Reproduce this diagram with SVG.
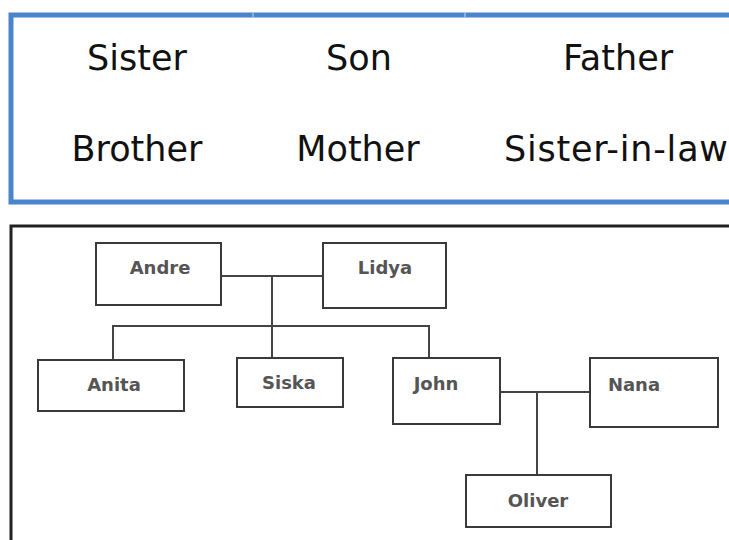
<svg xmlns="http://www.w3.org/2000/svg" width="729" height="540" viewBox="0 0 729 540">
<style>
.word{font-family:"DejaVu Sans","Liberation Sans",sans-serif;font-size:35px;fill:#111;text-anchor:middle}
.box{fill:#fff;stroke:#3a3a3a;stroke-width:2}
.name{font-family:"DejaVu Sans","Liberation Sans",sans-serif;font-size:18px;font-weight:bold;fill:#555;text-anchor:middle}
.link{fill:none;stroke:#444;stroke-width:2}
</style>
<rect width="729" height="540" fill="#fff"/>
<g id="wordbank">
<rect x="11" y="15" width="730" height="187" fill="#fff" stroke="#4a84cc" stroke-width="5"/>
<line x1="253" y1="13" x2="253" y2="17" stroke="#c9d9ee" stroke-width="1"/>
<line x1="465" y1="13" x2="465" y2="17" stroke="#c9d9ee" stroke-width="1"/>
<text class="word" x="137" y="70">Sister</text>
<text class="word" x="359" y="70">Son</text>
<text class="word" x="618" y="70">Father</text>
<text class="word" x="137" y="161">Brother</text>
<text class="word" x="358" y="161">Mother</text>
<text class="word" x="616" y="161" textLength="224">Sister-in-law</text>
</g>
<rect id="panel" x="11" y="226" width="730" height="330" fill="#fff" stroke="#222" stroke-width="3"/>
<g id="connectors">
<path class="link" d="M221 276H323M272 276V358M113 359V326H429V358"/>
<path class="link" d="M500 392H590M537 392V475"/>
</g>
<g id="andre"><rect class="box" x="96" y="243" width="125" height="62"/><text class="name" x="160" y="274">Andre</text></g>
<g id="lidya"><rect class="box" x="323" y="243" width="123" height="65"/><text class="name" x="385" y="274">Lidya</text></g>
<g id="anita"><rect class="box" x="38" y="360" width="146" height="51"/><text class="name" x="114" y="391">Anita</text></g>
<g id="siska"><rect class="box" x="237" y="358" width="106" height="49"/><text class="name" x="289" y="389">Siska</text></g>
<g id="john"><rect class="box" x="393" y="358" width="107" height="66"/><text class="name" x="436" y="390">John</text></g>
<g id="nana"><rect class="box" x="590" y="358" width="128" height="69"/><text class="name" x="634" y="391">Nana</text></g>
<g id="oliver"><rect class="box" x="466" y="475" width="145" height="52"/><text class="name" x="538" y="507">Oliver</text></g>
</svg>
